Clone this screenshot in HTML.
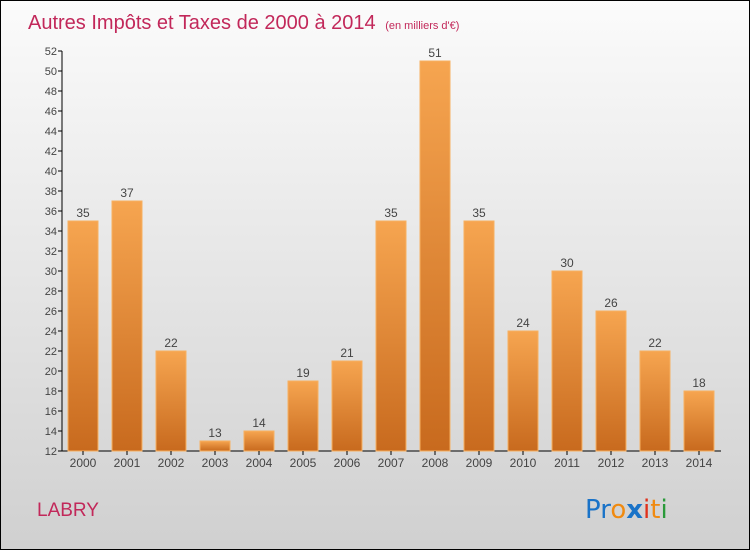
<!DOCTYPE html>
<html><head><meta charset="utf-8"><style>
body{margin:0}
#c{width:750px;height:550px;position:relative;box-sizing:border-box;border:1px solid #000;background:linear-gradient(#fbfbfb,#d0d0d0);font-family:"Liberation Sans",sans-serif;overflow:hidden}
</style></head><body>
<div id="c">
<svg width="750" height="550" style="position:absolute;left:0;top:0" id="svg">
<defs><linearGradient id="bg" x1="0" y1="0" x2="0" y2="1"><stop offset="0" stop-color="#f6a550"/><stop offset="1" stop-color="#c86a1e"/></linearGradient></defs>
<text x="27" y="28" font-size="20" fill="#c2285a">Autres Impôts et Taxes de 2000 à 2014 <tspan font-size="11" dx="4">(en milliers d'€)</tspan></text>
<text x="36" y="515" font-size="19" fill="#c2285a">LABRY</text>
<g font-size="26" font-family="DejaVu Sans, sans-serif">
<text x="584" y="517"><tspan fill="#1a73c8">Pr</tspan><tspan fill="#f08a10">o</tspan><tspan fill="#1a73c8" font-weight="bold">x</tspan><tspan fill="#e0301a">i</tspan><tspan fill="#f08a10">t</tspan><tspan fill="#2a9a3a">i</tspan></text></g>
<g id="plot"></g>
</svg>
</div>
<script>
const categories=["2000","2001","2002","2003","2004","2005","2006","2007","2008","2009","2010","2011","2012","2013","2014"];
const values=[35,37,22,13,14,19,21,35,51,35,24,30,26,22,18];
const yTicks=[12,14,16,18,20,22,24,26,28,30,32,34,36,38,40,42,44,46,48,50,52];
const NS="http://www.w3.org/2000/svg";
const g=document.getElementById('plot');
const y=v=>450-(v-12)*10;
const x=i=>82+i*44;
function mk(t,a,p){const e=document.createElementNS(NS,t);for(const k in a)e.setAttribute(k,a[k]);(p||g).appendChild(e);return e;}
let ax=mk('line',{x1:61,y1:50,x2:61,y2:450,stroke:'#000'});


let bx=mk('line',{x1:61,y1:450,x2:720,y2:450,stroke:'#000'});


yTicks.forEach(t=>{
 mk('line',{x1:57,y1:y(t),x2:61,y2:y(t),stroke:'#000'});
 const tx=mk('text',{x:56,y:y(t)+4,'font-size':11,'text-anchor':'end',fill:'#444'});tx.textContent=t;
 
 
});
categories.forEach((c,i)=>{
 const v=values[i];
 const r=mk('rect',{x:x(i)-15,y:y(v),width:30,height:450-y(v),fill:'url(#bg)',stroke:'#f7b060','stroke-width':1});
 
 
 const l=mk('text',{x:x(i),y:y(v)-4,'font-size':12,'text-anchor':'middle',fill:'#444'});l.textContent=v;
 
 
 mk('line',{x1:x(i),y1:450,x2:x(i),y2:454,stroke:'#000'});
 const xl=mk('text',{x:x(i),y:466,'font-size':12,'text-anchor':'middle',fill:'#444'});xl.textContent=c;
 
 
});
</script>
</body></html>
